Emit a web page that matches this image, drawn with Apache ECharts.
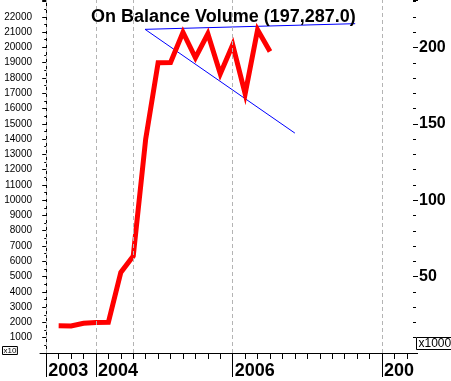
<!DOCTYPE html>
<html>
<head>
<meta charset="utf-8">
<script src="https://cdn.jsdelivr.net/npm/echarts@6/dist/echarts.min.js"></script>
<style>
  html, body { margin: 0; padding: 0; background: #fff; }
  #chart { width: 451px; height: 381px; }
</style>
</head>
<body>
<div id="chart"></div>
<script>
// one slot per tick on the bottom axis
var periods = ['p0', 'p1', 'p2', 'p3', 'p4', 'p5', 'p6', 'p7', 'p8', 'p9',
  'p10', 'p11', 'p12', 'p13', 'p14', 'p15', 'p16', 'p17', 'p18', 'p19',
  'p20', 'p21', 'p22', 'p23', 'p24', 'p25', 'p26', 'p27', 'p28', 'p29'];
var yearAt = [0, 4, 15, 27];
var yearLabels = ['2003', '2004', '2006', '200'];
var gridAt = [0, 4, 7, 15, 27];

// OBV (x10), first point sits on slot 1
var obvStart = 1;
var obv = [1780, 1770, 1950, 2000, 2010, 5270, 6350, 14000, 19000, 19010,
  20990, 19320, 20890, 18270, 20170, 16960, 21150, 19728.7];

// trend lines [slot, value]
var upperTrend = [[7.95, 21180], [24.85, 21550]];
var lowerTrend = [[7.95, 21180], [20.0, 14390]];

var font = 'Liberation Sans, Arial, sans-serif';

var myChart = echarts.init(document.getElementById('chart'));

var obvData = obv.map(function (v, k) { return [obvStart + k, v]; });

var option = {
  backgroundColor: '#ffffff',
  animation: false,
  title: {
    text: 'On Balance Volume (197,287.0)',
    left: 86,
    top: 3,
    textStyle: { fontFamily: font, fontSize: 18, fontWeight: 'bold', color: '#000' }
  },
  grid: { left: 40, right: 38, top: 0, bottom: 28 },
  xAxis: [{
    type: 'category',
    data: periods,
    boundaryGap: true,
    position: 'bottom',
    offset: 2,
    axisLine: { show: true, lineStyle: { color: '#000', width: 1 } },
    axisTick: { show: true, alignWithLabel: true, interval: 0, length: 6, lineStyle: { color: '#000' } },
    axisLabel: {
      interval: function (i) { return yearAt.indexOf(i) >= 0; },
      formatter: function (v, i) {
        var k = yearAt.indexOf(i);
        return k >= 0 ? yearLabels[k] : '';
      },
      align: 'left',
      padding: [0, 0, 0, 2],
      margin: 7,
      fontFamily: font,
      fontSize: 18,
      fontWeight: 'bold',
      color: '#000'
    },
    splitLine: { show: false }
  }, {
    type: 'value',
    min: -0.5,
    max: 29.5,
    show: false
  }, {
    type: 'category',
    data: periods,
    boundaryGap: true,
    position: 'bottom',
    offset: 2,
    axisLine: { show: false },
    axisTick: {
      show: true, alignWithLabel: true, length: 22,
      interval: function (i) { return yearAt.indexOf(i) >= 0; },
      lineStyle: { color: '#000' }
    },
    axisLabel: { show: false },
    splitLine: { show: false }
  }],
  yAxis: [{
    type: 'value',
    position: 'left',
    offset: 2,
    min: 0,
    max: 23100,
    interval: 1000,
    axisLine: { show: true, lineStyle: { color: '#000' } },
    axisTick: { show: true, length: 4, lineStyle: { color: '#000' } },
    minorTick: { show: true, splitNumber: 2, length: 2, lineStyle: { color: '#000' } },
    axisLabel: {
      margin: 6,
      fontFamily: font,
      fontSize: 10,
      color: '#000',
      showMaxLabel: false,
      formatter: function (v) { return (v === 0 || v > 22000) ? '' : String(v); }
    },
    splitLine: { show: false }
  }, {
    type: 'value',
    position: 'right',
    min: 0,
    max: 231.1,
    interval: 50,
    axisLine: { show: false },
    axisTick: { show: true, length: 5, lineStyle: { color: '#000' } },
    minorTick: { show: true, splitNumber: 5, length: 3, lineStyle: { color: '#000' } },
    axisLabel: {
      margin: 6,
      fontFamily: font,
      fontSize: 16,
      fontWeight: 'bold',
      color: '#000',
      showMaxLabel: false,
      formatter: function (v) { return v === 0 ? '' : String(v); }
    },
    splitLine: { show: false }
  }],
  graphic: [{
    type: 'text',
    left: 2,
    top: 346,
    style: {
      text: 'x10', font: '8px ' + font, fill: '#000',
      borderColor: '#000', borderWidth: 1, padding: [0, 1, 0, 1]
    }
  }, {
    type: 'text',
    left: 416,
    top: 337,
    style: {
      text: 'x1000', font: '12px ' + font, fill: '#000',
      borderColor: '#000', borderWidth: 1, padding: [0, 1, 0, 2]
    }
  }],
  series: [{
    name: 'grid',
    type: 'line',
    xAxisIndex: 1,
    data: [],
    silent: true,
    markLine: {
      silent: true,
      symbol: ['none', 'none'],
      label: { show: false },
      lineStyle: { color: '#b4b4b4', type: [4, 3], width: 1 },
      data: gridAt.map(function (i) { return { xAxis: i }; })
    }
  }, {
    name: 'upper',
    type: 'line',
    xAxisIndex: 1,
    data: upperTrend,
    symbol: 'none',
    lineStyle: { color: '#0000ff', width: 1 },
    silent: true
  }, {
    name: 'lower',
    type: 'line',
    xAxisIndex: 1,
    data: lowerTrend,
    symbol: 'none',
    lineStyle: { color: '#0000ff', width: 1 },
    silent: true
  }, {
    name: 'OBV',
    type: 'line',
    xAxisIndex: 0,
    data: obvData,
    symbol: 'none',
    lineStyle: { color: '#ff0000', width: 5, join: 'miter', cap: 'butt' },
    silent: true
  }]
};

myChart.setOption(option);
</script>
</body>
</html>
